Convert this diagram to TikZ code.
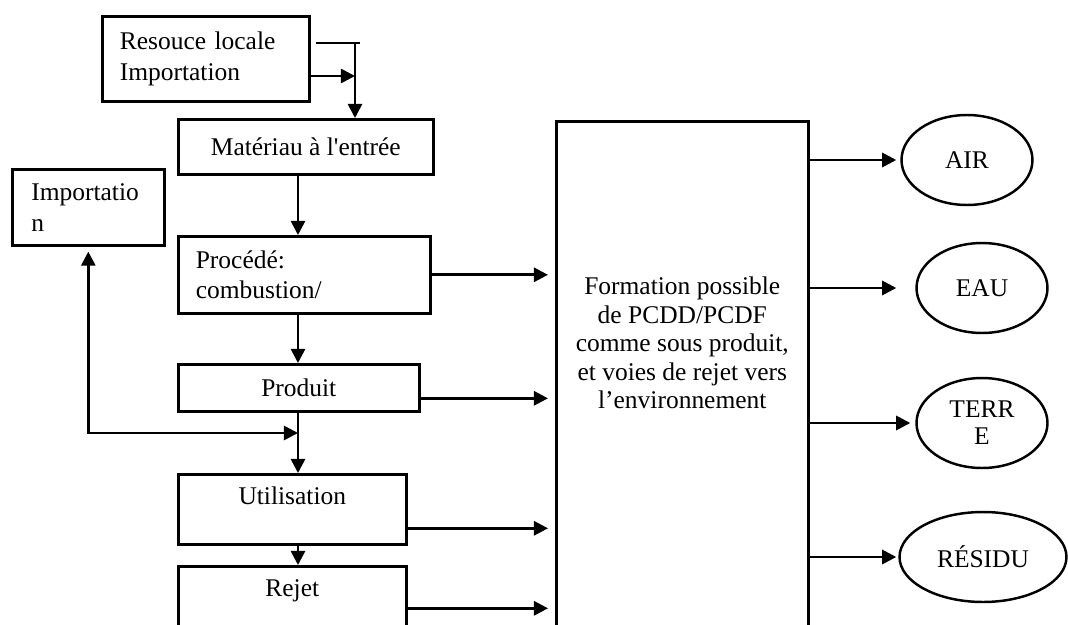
\documentclass[tikz,border=0pt]{standalone}
\usepackage{fontspec}
\setmainfont{Liberation Serif}
\usetikzlibrary{arrows.meta, positioning, calc, shapes.geometric}
\tikzset{
    >={Triangle[length=8pt, width=8pt]},
    box/.style={rectangle, draw, line width=1.5pt, inner sep=0pt,
                anchor=north west, font=\fontsize{14.5}{17.5}\selectfont},
    leftbox/.style={box, align=left, inner xsep=0.35cm},
    topbox/.style={box, inner ysep=0pt, text height=0.6cm},
    sink/.style={ellipse, draw, line width=1.4pt, inner sep=0pt,
                 minimum width=2.62cm, minimum height=1.8cm, align=center,
                 font=\fontsize{14.5}{15.5}\selectfont},
    flow/.style={->, line width=1.5pt},
    link/.style={-, line width=1.5pt},
}
\begin{document}
\begin{tikzpicture}[x=0.02cm, y=-0.02cm]
    \useasboundingbox (0,0) rectangle (1068,625);
    % left column
    \node[leftbox, text width=3.44cm, minimum height=1.7cm] (res) at (101,15)
        {Resouce locale\\Importation};
    \node[box, minimum width=5.1cm, minimum height=1.1cm] (mat) at (177,118)
        {Matériau à l\textquotesingle entrée};
    \node[leftbox, inner xsep=0.38cm, text width=2.28cm, minimum height=1.52cm] (imp) at (11,168)
        {Importatio\\n};
    \node[leftbox, text width=4.34cm, minimum height=1.54cm] (proc) at (177,235)
        {Procédé:\\combustion/};
    \node[box, minimum width=4.82cm, minimum height=0.94cm] (prod) at (177,363)
        {Produit};
    \node[topbox, minimum width=4.56cm, text depth=0.8cm] (util) at (177,473)
        {Utilisation};
    \node[topbox, minimum width=4.56cm, text depth=0.9cm] (rej) at (177,565)
        {Rejet};
    % central box
    \node[box, minimum width=5.04cm, minimum height=10.6cm] (form) at (555,120) {};
    \node[align=center, font=\fontsize{14.5}{16.3}\selectfont] (formtxt)
        at ($(form.north)+(0,223)$)
        {Formation possible\\de PCDD/PCDF\\comme sous produit,\\et voies de rejet vers\\l'environnement};
    % media
    \node[sink] (air) at (967,160) {AIR};
    \node[sink] (eau) at (982,288) {EAU};
    \node[sink] (terre) at (982,423) {TERR\\E};
    \node[sink, minimum width=3.34cm] (residu) at (983,557) {RÉSIDU};

    \coordinate (spine) at (298,0);
    \coordinate (jtop) at (355,43);
    \coordinate (jimp) at (355,76);
    \coordinate (jret) at (298,433);
    \draw[link] ([xshift=0.1cm]res.east |- jtop) -- ([xshift=0.1cm]jtop);
    \draw[flow] (jtop) -- (jtop |- mat.north);
    \draw[flow] (res.east |- jimp) -- (jimp);
    \draw[flow] (mat.south -| spine) -- (proc.north -| spine);
    \draw[flow] (proc.south -| spine) -- (prod.north -| spine);
    \draw[flow] (prod.south -| spine) -- (util.north -| spine);
    \draw[flow] (util.south -| spine) -- (rej.north -| spine);
    \draw[flow, <->, shorten <=0.1cm] (imp.south) |- (jret);

    \draw[flow, shorten >=0.14cm] (proc.east) -- (proc.east -| form.west);
    \draw[flow, shorten >=0.14cm] ([yshift=-0.21cm]prod.east) -- ([yshift=-0.21cm]prod.east -| form.west);
    \draw[flow, shorten >=0.14cm] ([yshift=-0.38cm]util.east) -- ([yshift=-0.38cm]util.east -| form.west);
    \draw[flow, shorten >=0.14cm] ([yshift=-0.09cm]rej.east) -- ([yshift=-0.09cm]rej.east -| form.west);

    \draw[flow, shorten >=0.08cm] (form.east |- air.west) -- (air.west);
    \draw[flow, shorten >=0.38cm] (form.east |- eau.west) -- (eau.west);
    \draw[flow, shorten >=0.1cm] (form.east |- terre.west) -- (terre.west);
    \draw[flow, shorten >=0.04cm] (form.east |- residu.west) -- (residu.west);
\end{tikzpicture}
\end{document}
